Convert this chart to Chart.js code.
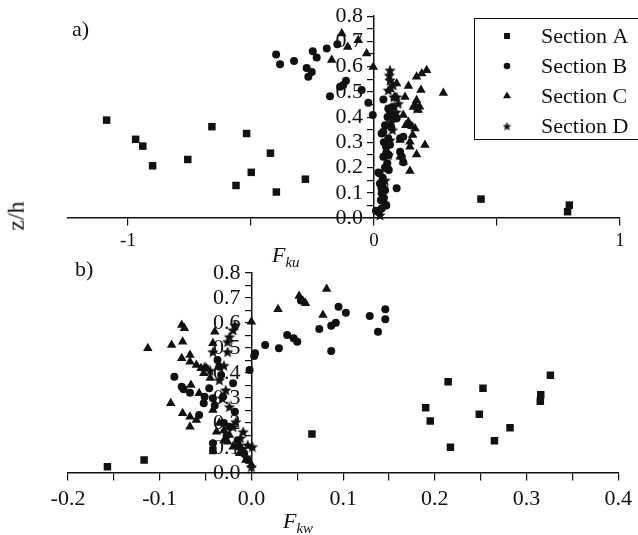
<!DOCTYPE html>
<html>
<head>
<meta charset="utf-8">
<script src="https://cdn.jsdelivr.net/npm/chart.js@4.4.0/dist/chart.umd.min.js"></script>
<style>
body { margin: 0; background: #fff; }
#wrap { position: relative; width: 638px; height: 535px; overflow: hidden; font-family: "Liberation Serif", "Times New Roman", serif; color: #111; }
canvas { position: absolute; left: 0; top: 0; }
.lbl { position: absolute; font-size: 22px; line-height: 1; white-space: nowrap; }
.ax { font-style: italic; }
.ax sub { font-size: 15px; vertical-align: -5px; }
</style>
</head>
<body>
<div id="wrap">
    <canvas id="chartKu" width="638" height="535"></canvas>
    <canvas id="chartKw" width="638" height="535"></canvas>
    <div class="lbl" style="left:72px;top:18px">a)</div>
    <div class="lbl" style="left:75px;top:258px">b)</div>
    <div class="lbl" style="left:1px;top:204px;font-size:24px;transform:rotate(-90deg);transform-origin:center">z/h</div>
    <div class="lbl ax" style="left:272px;top:244px">F<sub>ku</sub></div>
    <div class="lbl ax" style="left:283px;top:510px">F<sub>kw</sub></div>
</div>
<script>
const seriesNames = ['Section A', 'Section B', 'Section C', 'Section D'];

// panel a) F_ku vs z/h
const kuA = [[-1.087,0.388],[-0.969,0.312],[-0.940,0.285],[-0.900,0.207],[-0.757,0.232],[-0.659,0.362],
    [-0.518,0.335],[-0.561,0.129],[-0.499,0.181],[-0.421,0.257],[-0.397,0.103],[-0.279,0.154],
    [0.435,0.075],[0.794,0.051],[0.787,0.025]];
const kuB = [[-0.398,0.648],[-0.382,0.610],[-0.325,0.622],[-0.249,0.661],[-0.233,0.636],[-0.274,0.595],
    [-0.253,0.579],[-0.267,0.560],[-0.192,0.672],[-0.149,0.689],[-0.114,0.544],[-0.125,0.527],
    [-0.138,0.520],[-0.179,0.483],[-0.050,0.507],[-0.023,0.457],[-0.005,0.408],
    [0.038,0.470],[0.058,0.434],[0.065,0.415],[0.092,0.395],[0.045,0.368],[0.031,0.335],[0.038,0.342],
    [0.058,0.316],[0.049,0.282],[0.038,0.243],[0.054,0.217],[0.022,0.177],[0.024,0.137],[0.031,0.098],
    [0.038,0.065],[0.008,0.029],[0.031,0.038],[0.092,0.118],[0.106,0.316],[0.113,0.243],[0.119,0.221],
    [0.146,0.368],[0.119,0.322],[0.106,0.263],[0.018,0.180],[0.040,0.300],[0.050,0.260],[0.045,0.200],
    [0.035,0.160],[0.030,0.120],[0.040,0.080],[0.050,0.050],[0.060,0.250],[0.070,0.360],[0.075,0.440],
    [0.055,0.400],[0.045,0.110],[0.028,0.070],[0.020,0.025],[0.035,0.140],[0.060,0.190],[0.065,0.290]];
const kuC = [[-0.131,0.731],[-0.107,0.678],[-0.064,0.705],[-0.030,0.652],[-0.172,0.626],[-0.003,0.599],
    [0.214,0.586],[0.194,0.573],[0.173,0.560],[0.140,0.523],[0.191,0.507],[0.282,0.496],[0.092,0.533],
    [0.126,0.480],[0.173,0.467],[0.185,0.441],[0.167,0.448],[0.180,0.428],[0.140,0.381],[0.167,0.355],
    [0.157,0.329],[0.146,0.302],[0.207,0.289],[0.173,0.252],[0.119,0.223],[0.146,0.186],[0.129,0.368],
    [0.119,0.408],[0.065,0.510],[0.085,0.480],[0.106,0.309],[0.106,0.243],[0.146,0.282],[0.160,0.440]];
const kuD = [[0.065,0.586],[0.062,0.566],[0.065,0.547],[0.078,0.527],[0.058,0.507],[0.081,0.480],
    [0.099,0.454],[0.092,0.480],[0.173,0.436],[0.065,0.309],[0.058,0.250],[0.038,0.124],[0.024,0.012],
    [0.080,0.400],[0.070,0.380],[0.050,0.200],[0.045,0.150],[0.040,0.060],[0.090,0.420],[0.075,0.350]];

// panel b) F_kw vs z/h
const kwA = [[-0.157,0.025],[-0.117,0.052],[-0.042,0.090],[0.066,0.156],[0.2145,0.365],[0.2525,0.339],
    [0.190,0.261],[0.195,0.208],[0.217,0.103],[0.2485,0.235],[0.265,0.129],[0.282,0.181],
    [0.3155,0.313],[0.315,0.287],[0.326,0.391]];
const kwB = [[-0.002,0.412],[0.003,0.468],[0.004,0.479],[0.015,0.512],[0.030,0.499],[0.039,0.552],
    [0.046,0.539],[0.050,0.525],[0.074,0.576],[0.087,0.589],[0.092,0.601],[0.087,0.488],[0.095,0.665],
    [0.103,0.641],[0.129,0.628],[0.138,0.565],[0.146,0.655],[0.146,0.615],[0.054,0.690],
    [-0.084,0.385],[-0.076,0.345],[-0.074,0.335],[-0.067,0.321],[-0.057,0.232],[-0.042,0.119],
    [-0.051,0.305],[-0.052,0.279],[-0.046,0.339],[-0.042,0.299],[-0.035,0.425],[-0.033,0.392],
    [-0.031,0.305],[-0.020,0.359],[-0.018,0.245],[-0.008,0.079],[-0.004,0.052],[-0.013,0.105],
    [-0.024,0.185],[-0.037,0.452],[-0.030,0.200],[-0.027,0.150],[-0.040,0.270],[-0.015,0.130],[-0.010,0.090]];
const kwC = [[-0.113,0.499],[-0.087,0.512],[-0.076,0.592],[-0.073,0.579],[-0.075,0.525],[-0.076,0.459],
    [-0.067,0.472],[-0.067,0.445],[-0.060,0.432],[-0.055,0.419],[-0.049,0.419],[-0.052,0.399],
    [-0.040,0.565],[-0.088,0.279],[-0.075,0.239],[-0.067,0.225],[-0.067,0.185],[-0.066,0.352],
    [-0.057,0.319],[-0.060,0.212],[-0.042,0.252],[-0.038,0.165],[-0.024,0.152],[-0.026,0.125],
    [-0.020,0.105],[-0.013,0.079],[-0.006,0.052],[0.000,0.032],[0.000,0.605],[-0.042,0.519],
    [0.082,0.736],[0.052,0.708],[0.056,0.689],[0.059,0.679],[0.029,0.655],[0.078,0.632],
    [-0.035,0.200],[-0.030,0.170],[-0.045,0.380],[-0.030,0.130]];
const kwD = [[-0.020,0.572],[-0.018,0.592],[-0.024,0.545],[-0.026,0.525],[-0.042,0.485],[-0.051,0.425],
    [-0.035,0.372],[-0.028,0.332],[-0.024,0.265],[-0.017,0.205],[-0.009,0.165],[-0.004,0.112],
    [0.001,0.105],[-0.020,0.185],[-0.006,0.065],[0.000,0.025],[-0.026,0.485],[-0.030,0.430],
    [-0.032,0.300],[-0.012,0.140],[-0.045,0.410]];

const kuTicks = [-1, -0.5, 0, 0.5, 1];
const kuLabels = ['-1', '', '0', '', '1'];
const kwTicks = [-0.2, -0.15, -0.1, -0.05, 0, 0.05, 0.1, 0.15, 0.2, 0.25, 0.3, 0.35, 0.4];
const zTicks = [0, 0.05, 0.1, 0.15, 0.2, 0.25, 0.3, 0.35, 0.4, 0.45, 0.5, 0.55, 0.6, 0.65, 0.7, 0.75, 0.8];

const INK = '#111';
const SERIF = '"Liberation Serif", "Times New Roman", serif';

function makeStar(size) {
    var c = document.createElement('canvas');
    c.width = size;
    c.height = size;
    var g = c.getContext('2d');
    var R = size / 2, r = R * 0.45;
    g.beginPath();
    for (var i = 0; i < 10; i++) {
        var a = -Math.PI / 2 + i * Math.PI / 5;
        var rr = i % 2 ? r : R;
        g.lineTo(R + rr * Math.cos(a), R + 0.6 + rr * Math.sin(a));
    }
    g.closePath();
    g.fillStyle = INK;
    g.fill();
    return c;
}

var starBig = makeStar(12);
var starSmall = makeStar(9);

function toPoints(arr) {
    return arr.map(p => ({ x: p[0], y: p[1] }));
}

function buildDatasets(a, b, c, d) {
    var styles = [['rect', 5.3], ['circle', 4], ['triangle', 5.5], [starBig, 6]];
    return [a, b, c, d].map((arr, i) => ({
        label: seriesNames[i],
        data: toPoints(arr),
        pointStyle: styles[i][0],
        pointRadius: styles[i][1],
        pointBackgroundColor: INK,
        pointBorderWidth: 0,
        showLine: false,
        clip: false
    }));
}

var legendBox = {
    id: 'legendBox',
    afterDraw: function (chart) {
        var ctx = chart.ctx;
        var marks = [['rect', 4.2], ['circle', 3.3], ['triangle', 4.6], [starSmall, 4]];
        ctx.save();
        ctx.fillStyle = '#fff';
        ctx.fillRect(474.5, 18.5, 200, 121);
        ctx.strokeStyle = INK;
        ctx.lineWidth = 1;
        ctx.strokeRect(474.5, 18.5, 200, 121);
        ctx.font = '22px ' + SERIF;
        ctx.textBaseline = 'middle';
        chart.data.datasets.forEach(function (ds, i) {
            var y = 36 + i * 30;
            ctx.fillStyle = INK;
            Chart.helpers.drawPoint(ctx, { pointStyle: marks[i][0], radius: marks[i][1], rotation: 0, borderWidth: 0 }, 507, y);
            ctx.fillText(ds.label, 541, y + 1);
        });
        ctx.restore();
    }
};

// a y axis placed at x = 0 gets no label padding, so trailing spaces keep the labels off the line
function zAxis(fontSize) {
    return {
        type: 'linear',
        min: 0,
        max: 0.8,
        position: { x: 0 },
        afterBuildTicks: s => { s.ticks = zTicks.map(v => ({ value: v })); },
        ticks: {
            autoSkip: false,
            color: INK,
            font: { family: SERIF, size: fontSize },
            callback: v => (Math.round(v * 100) % 10 === 0 ? v.toFixed(1) + '  ' : '')
        },
        grid: { drawOnChartArea: false, drawTicks: true, tickLength: 6, color: INK, lineWidth: 1.2 },
        border: { display: true, color: INK, width: 1.5 }
    };
}

function InitializeChart(canvasId, datasets, xOpts, padding, plugins) {
    const ctx = document.getElementById(canvasId).getContext('2d');
    return new Chart(ctx, {
        type: 'scatter',
        data: { datasets: datasets },
        options: {
            responsive: false,
            animation: false,
            events: [],
            layout: { padding: padding },
            plugins: { legend: { display: false }, tooltip: { enabled: false } },
            scales: { x: xOpts, y: zAxis(22) }
        },
        plugins: plugins
    });
}

InitializeChart('chartKu', buildDatasets(kuA, kuB, kuC, kuD), {
    type: 'linear',
    min: -1.244,
    max: 1,
    position: { y: 0 },
    afterBuildTicks: s => { s.ticks = kuTicks.map(v => ({ value: v })); },
    ticks: {
        autoSkip: false,
        maxRotation: 0,
        padding: 5,
        color: INK,
        font: { family: SERIF, size: 19 },
        callback: (v, i) => kuLabels[i]
    },
    grid: { drawOnChartArea: false, drawTicks: true, tickLength: 7, color: INK, lineWidth: 1.2 },
    border: { display: true, color: INK, width: 1.5 }
}, { left: 68, right: 18, top: 16, bottom: 317 }, [legendBox]);

InitializeChart('chartKw', buildDatasets(kwA, kwB, kwC, kwD), {
    type: 'linear',
    min: -0.2,
    max: 0.4,
    position: { y: 0 },
    afterBuildTicks: s => { s.ticks = kwTicks.map(v => ({ value: v })); },
    ticks: {
        autoSkip: false,
        maxRotation: 0,
        padding: 6,
        color: INK,
        font: { family: SERIF, size: 22 },
        callback: v => (Math.round(v * 100) % 10 === 0 ? v.toFixed(1) : '')
    },
    grid: { drawOnChartArea: false, drawTicks: true, tickLength: 7, color: INK, lineWidth: 1.2 },
    border: { display: true, color: INK, width: 1.5 }
}, { left: 68, right: 18, top: 273, bottom: 62 }, []);
</script>
</body>
</html>
